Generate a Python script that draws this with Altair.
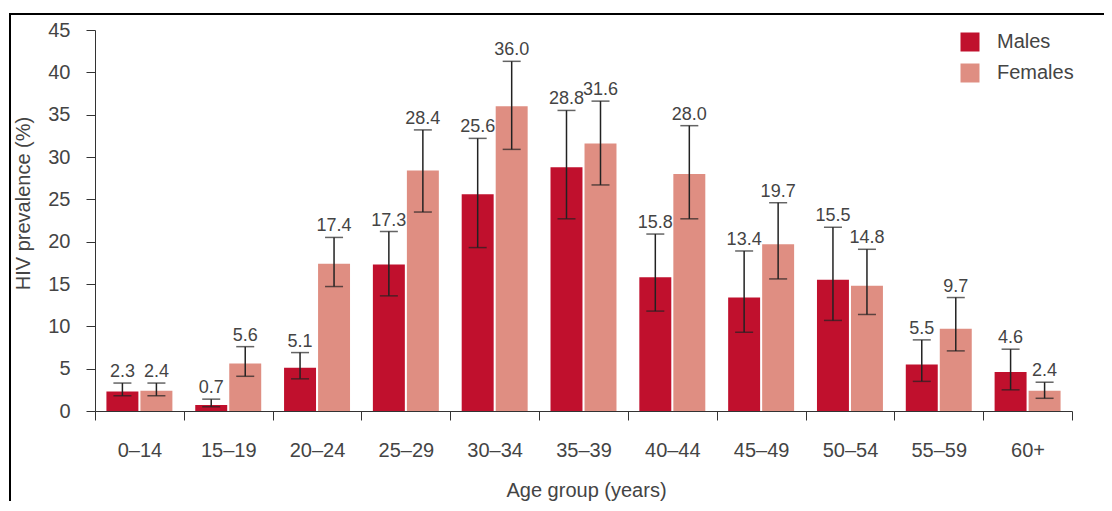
import altair as alt
import pandas as pd

groups = ["0–14", "15–19", "20–24", "25–29", "30–34", "35–39",
          "40–44", "45–49", "50–54", "55–59", "60+"]
sexes = ["Males", "Females"]
male = [2.3, 0.7, 5.1, 17.3, 25.6, 28.8, 15.8, 13.4, 15.5, 5.5, 4.6]
female = [2.4, 5.6, 17.4, 28.4, 36.0, 31.6, 28.0, 19.7, 14.8, 9.7, 2.4]
male_lo = [1.8, 0.5, 3.8, 13.6, 19.3, 22.7, 11.8, 9.3, 10.7, 3.5, 2.5]
male_hi = [3.3, 1.4, 6.9, 21.2, 32.2, 35.5, 20.9, 18.9, 21.7, 8.4, 7.3]
female_lo = [1.8, 4.1, 14.7, 23.5, 30.9, 26.7, 22.7, 15.6, 11.4, 7.1, 1.5]
female_hi = [3.3, 7.6, 20.5, 33.2, 41.3, 36.6, 33.7, 24.6, 19.1, 13.4, 3.4]
y_ticks = [0, 5, 10, 15, 20, 25, 30, 35, 40, 45]
colors = ["#C0102D", "#DF8E82"]

rows = []
for i, g in enumerate(groups):
    rows.append({"group": g, "sex": "Males", "value": male[i], "lo": male_lo[i], "hi": male_hi[i]})
    rows.append({"group": g, "sex": "Females", "value": female[i], "lo": female_lo[i], "hi": female_hi[i]})
df = pd.DataFrame(rows)

W, H = 977, 381
FONT = "Liberation Sans"
TXT = "#444444"
AX = "#333333"

x_axis = alt.Axis(title="Age group (years)", labelAngle=0, tickBand="extent", tickSize=9,
                  labelPadding=20, labelFontSize=20, labelFont=FONT, labelColor=TXT,
                  titleFont=FONT, titleFontSize=20, titleFontWeight="normal", titleColor=TXT,
                  titleX=491, titleY=85, titleBaseline="alphabetic",
                  domainColor=AX, tickColor=AX, grid=False)
x = alt.X("group:N", sort=groups, scale=alt.Scale(paddingInner=0, paddingOuter=0), axis=x_axis)
xo = alt.XOffset("sex:N", sort=sexes, scale=alt.Scale(paddingInner=0.06, paddingOuter=0.336))

y_axis = alt.Axis(title="HIV prevalence (%)", values=y_ticks, tickSize=9, labelPadding=16,
                  labelFontSize=20, labelFont=FONT, labelColor=TXT,
                  titleFont=FONT, titleFontSize=20, titleFontWeight="normal", titleColor=TXT,
                  titleX=-66, titleY=173, titleBaseline="alphabetic",
                  domainColor=AX, tickColor=AX, grid=False)
y_scale = alt.Scale(domain=[0, 45], nice=False)

color = alt.Color("sex:N", sort=sexes, scale=alt.Scale(domain=sexes, range=colors),
                  legend=alt.Legend(title=None, orient="none", legendX=865, legendY=2,
                                    symbolType="square", symbolSize=361, symbolStrokeWidth=0,
                                    labelFontSize=20, labelFont=FONT, labelColor=TXT,
                                    labelOffset=17, rowPadding=11, padding=0))

base = alt.Chart(df)

bars = base.mark_bar().encode(
    x=x, xOffset=xo, y=alt.Y("value:Q", scale=y_scale, axis=y_axis), color=color)

err = base.mark_rule(color="#222222", strokeWidth=1.5).encode(
    x=x, xOffset=xo, y=alt.Y("lo:Q", scale=y_scale, axis=y_axis), y2="hi:Q")

cap_hi = base.mark_tick(size=18, thickness=1.5, color="#222222").encode(
    x=x, xOffset=xo, y=alt.Y("hi:Q", scale=y_scale, axis=y_axis))
cap_lo = base.mark_tick(size=18, thickness=1.5, color="#222222").encode(
    x=x, xOffset=xo, y=alt.Y("lo:Q", scale=y_scale, axis=y_axis))

labels = base.mark_text(fontSize=18, font=FONT, color=TXT, baseline="alphabetic", dy=-6).encode(
    x=x, xOffset=xo, y=alt.Y("hi:Q", scale=y_scale, axis=y_axis),
    text=alt.Text("value:Q", format=".1f"))

frame_df = pd.DataFrame({"k": [0]})
frame_left = alt.Chart(frame_df).mark_rule(color="black", strokeWidth=2, strokeCap="square").encode(
    x=alt.value(-85), y=alt.value(-16), y2=alt.value(H + 95))
frame_top = alt.Chart(frame_df).mark_rule(color="black", strokeWidth=2, strokeCap="square").encode(
    x=alt.value(-85), x2=alt.value(W + 40), y=alt.value(-16))

chart = alt.layer(bars, err, cap_hi, cap_lo, labels, frame_left, frame_top).properties(
    width=W, height=H,
    padding={"left": 87, "top": 22, "right": 32, "bottom": 90},
    autosize=alt.AutoSizeParams(type="none"),
    background="white",
).configure_view(stroke=None)

chart.save("out.html", embed_options={"renderer": "svg", "actions": False})
